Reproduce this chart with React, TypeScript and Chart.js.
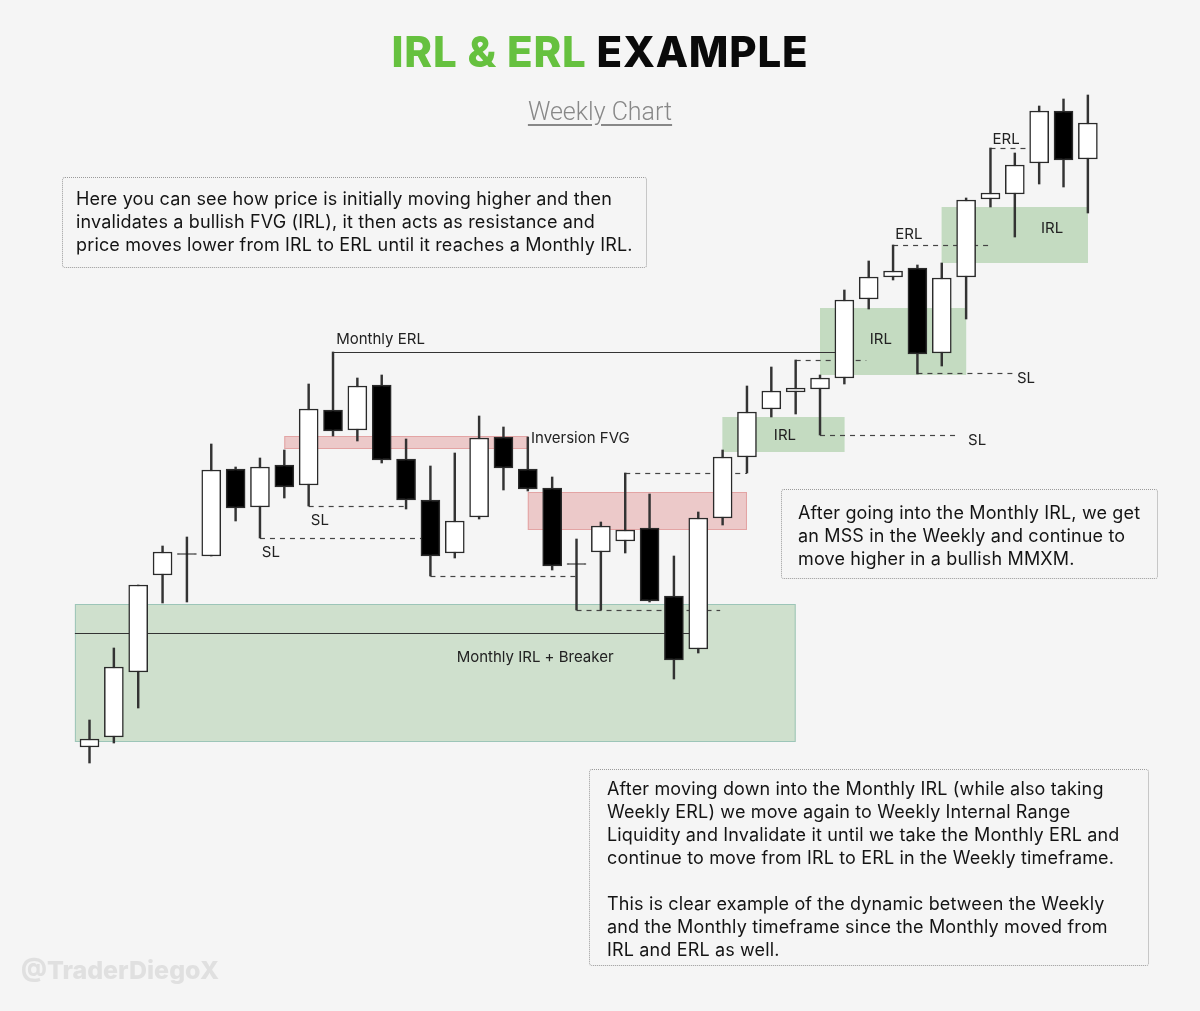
import React, { useEffect, useRef } from "react";
import { Chart, registerables } from "chart.js";
Chart.register(...registerables);

// Weekly candles (index = week number), prices in arbitrary units
const weeks = [0, 1, 2, 3, 4, 5, 6, 7, 8, 9, 10, 11, 12, 13, 14, 15, 16, 17, 18, 19, 20, 21, 22, 23, 24, 25, 26, 27, 28, 29, 30, 31, 32, 33, 34, 35, 36, 37, 38, 39, 40, 41];
const openPrices = [26.4, 27.4, 33.9, 43.6, 45.75, 45.5, 54.2, 50.4, 54.6, 52.6, 60.1, 58.1, 62.6, 55.2, 51.1, 45.8, 49.4, 57.4, 54.2, 52.3, 44.75, 45.9, 47.0, 48.3, 41.5, 36.2, 49.3, 55.4, 60.2, 61.9, 62.2, 63.3, 71.2, 73.4, 74.3, 65.8, 73.4, 81.2, 81.7, 84.8, 90.0, 85.2];
const highPrices = [29.1, 36.3, 42.6, 46.5, 47.4, 56.7, 54.4, 55.3, 56.1, 62.7, 65.9, 63.3, 63.6, 57.2, 54.5, 55.8, 59.5, 58.4, 57.4, 53.4, 47.2, 48.9, 53.8, 51.7, 45.5, 49.9, 56.1, 62.5, 64.4, 65.1, 63.6, 72.1, 75.0, 76.6, 74.6, 74.8, 81.3, 86.3, 85.8, 90.5, 91.2, 91.6];
const lowPrices = [24.8, 26.8, 30.3, 40.8, 40.9, 45.5, 49.0, 47.3, 51.3, 50.5, 57.5, 57.0, 54.8, 50.2, 43.5, 45.3, 49.2, 52.1, 52.0, 44.1, 40.1, 40.1, 45.8, 40.9, 33.2, 35.8, 48.6, 53.8, 59.4, 59.7, 57.6, 62.7, 70.2, 73.1, 63.7, 64.5, 69.2, 80.4, 77.4, 82.7, 82.4, 79.8];
const closePrices = [27.2, 34.4, 42.6, 45.9, 45.65, 54.1, 50.3, 54.4, 52.4, 60.2, 58.0, 62.5, 55.1, 51.1, 45.5, 49.0, 57.3, 54.3, 52.2, 44.5, 44.65, 48.5, 48.1, 41.0, 35.1, 49.3, 55.4, 59.9, 62.0, 62.3, 63.3, 71.1, 73.4, 74.0, 65.7, 73.3, 81.1, 81.8, 84.6, 90.0, 85.1, 88.8];

// Zones: [startWeek, endWeek, lowPrice, highPrice]
const monthlyIrlZone = [-0.6, 29.0, 26.9, 40.7];
const fvgZones = [
  [8.0, 18.0, 56.2, 57.5],
  [18.0, 27.0, 48.1, 51.9],
];
const weeklyIrlZones = [
  [26.0, 31.0, 55.9, 59.4],
  [30.0, 36.0, 63.6, 70.3],
  [35.0, 41.0, 74.8, 80.4],
];
// Solid levels: [startWeek, endWeek, price]
const solidLevels = [
  [10, 31, 65.9],
  [-0.6, 25, 37.8],
];
// Dashed liquidity levels: [startWeek, endWeek, price]
const dashedLevels = [
  [7, 14, 47.3],
  [9, 13, 50.5],
  [14, 20, 43.5],
  [20, 25.9, 40.1],
  [22, 27, 53.8],
  [29, 31.9, 65.1],
  [30, 35.7, 57.6],
  [34, 37.9, 63.8],
  [33, 37.06, 76.6],
  [37, 38.6, 86.3],
];
// Labels: [text, week, price, align]
const chartLabels: [string, number, number, string][] = [
  ["Monthly ERL", 10.13, 67.2, "left"],
  ["SL", 9.46, 49.1, "center"],
  ["SL", 7.45, 45.9, "center"],
  ["Inversion FVG", 18.13, 57.3, "left"],
  ["Monthly IRL + Breaker", 18.3, 35.4, "center"],
  ["IRL", 28.56, 57.6, "center"],
  ["IRL", 32.5, 67.2, "center"],
  ["IRL", 39.53, 78.3, "center"],
  ["ERL", 33.65, 77.7, "center"],
  ["ERL", 37.64, 87.2, "center"],
  ["SL", 36.45, 57.1, "center"],
  ["SL", 38.46, 63.3, "center"],
];

const TEXT_FONT = "Inter, 'Liberation Sans', sans-serif";

const overlayPlugin = {
  id: "overlays",
  beforeDatasetsDraw(chart: any) {
    const { ctx, scales } = chart;
    const xs = scales.x;
    const ys = scales.y;
    const rect = (z: number[], fill: string, stroke: string) => {
      const x0 = xs.getPixelForValue(z[0]);
      const x1 = xs.getPixelForValue(z[1]);
      const y0 = ys.getPixelForValue(z[3]);
      const y1 = ys.getPixelForValue(z[2]);
      ctx.fillStyle = fill;
      ctx.fillRect(x0, y0, x1 - x0, y1 - y0);
      ctx.strokeStyle = stroke;
      ctx.lineWidth = 1;
      ctx.strokeRect(x0 + 0.5, y0 + 0.5, x1 - x0 - 1, y1 - y0 - 1);
    };
    ctx.save();
    rect(monthlyIrlZone, "#cfe0cd", "#9cc5b8");
    fvgZones.forEach((z) => rect(z, "#ecc9c9", "#e3a4a4"));
    weeklyIrlZones.forEach((z) => rect(z, "#c4dbc1", "#c4dbc1"));

    ctx.strokeStyle = "#333";
    ctx.lineWidth = 1.2;
    ctx.setLineDash([]);
    solidLevels.forEach((l) => {
      const y = Math.round(ys.getPixelForValue(l[2])) + 0.5;
      ctx.beginPath();
      ctx.moveTo(xs.getPixelForValue(l[0]), y);
      ctx.lineTo(xs.getPixelForValue(l[1]), y);
      ctx.stroke();
    });
    ctx.strokeStyle = "#444";
    ctx.setLineDash([5, 5]);
    dashedLevels.forEach((l) => {
      const y = Math.round(ys.getPixelForValue(l[2])) + 0.5;
      ctx.beginPath();
      ctx.moveTo(xs.getPixelForValue(l[0]), y);
      ctx.lineTo(xs.getPixelForValue(l[1]), y);
      ctx.stroke();
    });
    ctx.restore();
  },
  afterDatasetsDraw(chart: any) {
    const { ctx, scales } = chart;
    ctx.save();
    ctx.fillStyle = "#222";
    ctx.font = "15px " + TEXT_FONT;
    ctx.textBaseline = "middle";
    chartLabels.forEach(([t, w, p, a]) => {
      ctx.textAlign = a;
      ctx.fillText(t, scales.x.getPixelForValue(w), scales.y.getPixelForValue(p));
    });
    ctx.restore();
  },
};

const boxStyle: React.CSSProperties = {
  position: "absolute",
  border: "1px dotted #9a9a9a",
  borderRadius: 3,
  boxSizing: "border-box",
  fontFamily: TEXT_FONT,
  fontSize: 18,
  lineHeight: "23px",
  letterSpacing: 0.15,
  color: "#141414",
  whiteSpace: "nowrap",
};

export default function App() {
  const canvasRef = useRef<HTMLCanvasElement | null>(null);

  useEffect(() => {
    if (!canvasRef.current) return;
    const chart = new Chart(canvasRef.current, {
      type: "bar",
      data: {
        datasets: [
          {
            label: "wick",
            data: weeks.map((w, i) => ({ x: w, y: [lowPrices[i], highPrices[i]] })) as any,
            backgroundColor: "#333333",
            barThickness: 1.8,
            grouped: false,
            borderSkipped: false,
            order: 2,
          } as any,
          {
            label: "body",
            data: weeks.map((w, i) => ({ x: w, y: [openPrices[i], closePrices[i]] })) as any,
            backgroundColor: weeks.map((_, i) => (closePrices[i] >= openPrices[i] ? "#ffffff" : "#000000")),
            borderColor: "#2a2a2a",
            borderWidth: 1.5,
            barThickness: 19,
            grouped: false,
            borderSkipped: false,
            order: 1,
          } as any,
        ],
      },
      options: {
        animation: false,
        responsive: false,
        events: [],
        layout: { padding: 0 },
        plugins: { legend: { display: false }, tooltip: { enabled: false } },
        scales: {
          x: { type: "linear", min: -3.676, max: 45.605, display: false, offset: false },
          y: { type: "linear", min: 0, max: 101.1, display: false },
        },
      },
      plugins: [overlayPlugin],
    });
    return () => chart.destroy();
  }, []);

  return (
    <div style={{ position: "absolute", left: 0, top: 0, width: 1200, height: 1011, background: "#f5f5f5", overflow: "hidden" }}>
      <canvas ref={canvasRef} width={1200} height={1011} style={{ position: "absolute", left: 0, top: 0 }} />
      <div style={{ position: "absolute", left: 0, top: 26, width: 1200, textAlign: "center", fontFamily: "Inter, sans-serif", fontWeight: 800, fontSize: 42, lineHeight: "52px", letterSpacing: 0.8 }}>
        <span style={{ color: "#66c13f" }}>IRL &amp; ERL</span> <span style={{ color: "#0a0a0a" }}>EXAMPLE</span>
      </div>
      <div style={{ position: "absolute", left: 0, top: 97, width: 1200, textAlign: "center", fontFamily: "Roboto, sans-serif", fontWeight: 300, fontSize: 25, lineHeight: "30px", color: "#888" }}>
        <span style={{ textDecoration: "underline", textUnderlineOffset: 4 }}>Weekly Chart</span>
      </div>
      <div style={{ ...boxStyle, left: 62, top: 177, width: 585, height: 91, padding: "9px 0 0 13px" }}>
        Here you can see how price is initially moving higher and then<br />
        invalidates a bullish FVG (IRL), it then acts as resistance and<br />
        price moves lower from IRL to ERL until it reaches a Monthly IRL.
      </div>
      <div style={{ ...boxStyle, left: 781, top: 489, width: 377, height: 90, padding: "11px 0 0 16px" }}>
        After going into the Monthly IRL, we get<br />
        an MSS in the Weekly and continue to<br />
        move higher in a bullish MMXM.
      </div>
      <div style={{ ...boxStyle, left: 589, top: 769, width: 560, height: 197, padding: "7px 0 0 17px" }}>
        After moving down into the Monthly IRL (while also taking<br />
        Weekly ERL) we move again to Weekly Internal Range<br />
        Liquidity and Invalidate it until we take the Monthly ERL and<br />
        continue to move from IRL to ERL in the Weekly timeframe.<br />
        <br />
        This is clear example of the dynamic between the Weekly<br />
        and the Monthly timeframe since the Monthly moved from<br />
        IRL and ERL as well.
      </div>
      <div style={{ position: "absolute", left: 21, top: 954, fontFamily: "Inter, sans-serif", fontWeight: 800, fontSize: 25, lineHeight: "32px", color: "#e0e0e0" }}>
        @TraderDiegoX
      </div>
    </div>
  );
}
